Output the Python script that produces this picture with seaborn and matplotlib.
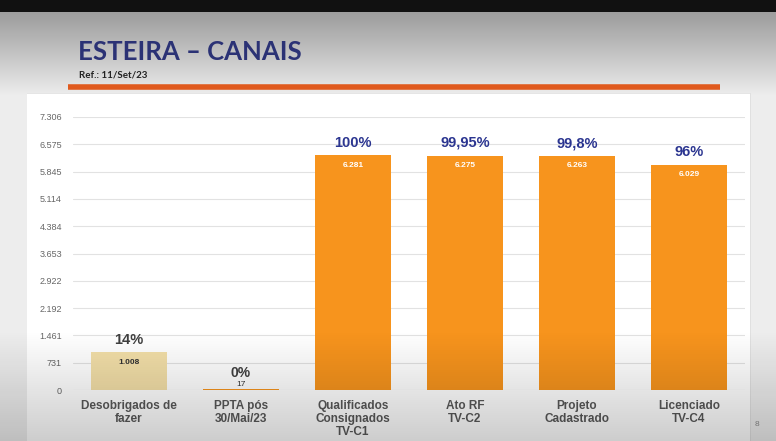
import numpy as np
import pandas as pd
import matplotlib
matplotlib.use("Agg")
import matplotlib.pyplot as plt
import seaborn as sns

# data
categorias = ["Desobrigados de\nfazer", "PPTA pós\n30/Mai/23", "Qualificados\nConsignados\nTV-C1",
              "Ato RF\nTV-C2", "Projeto\nCadastrado", "Licenciado\nTV-C4"]
valores = [1008, 17, 6281, 6275, 6263, 6029]
percentuais = ["14%", "0%", "100%", "99,95%", "99,8%", "96%"]
yticks = [0, 731, 1461, 2192, 2922, 3653, 4384, 5114, 5845, 6575, 7306]

cores = ["#f3dfa8", "#f7941d", "#f7941d", "#f7941d", "#f7941d", "#f7941d"]

sns.set_theme(style="white")
plt.rcParams["font.family"] = ["Liberation Sans", "DejaVu Sans"]

W, H = 776, 441
fig = plt.figure(figsize=(W / 100, H / 100), dpi=100)

# slide background (screenshot look)
bg = fig.add_axes([0, 0, 1, 1])
rows = np.arange(H)
base = np.interp(rows, [0, 11, 12, 20, 95, 96, 441], [0.07, 0.07, 0.62, 0.64, 0.93, 0.93, 0.93])
img = np.repeat(base[:, None], W, axis=1)
cols = np.arange(W)
panel = (cols[None, :] >= 27) & (cols[None, :] <= 750) & (rows[:, None] >= 93)
img = np.where(panel, 1.0, img)
img[93, 27:751] = 0.9
img[93:, 750] = 0.88
bg.imshow(np.dstack([img, img, img]), aspect="auto", extent=[0, W, H, 0])
bg.set_xlim(0, W)
bg.set_ylim(H, 0)
bg.axis("off")

# title, ref and orange rule
bg.text(78, 52, "ESTEIRA – CANAIS", fontsize=18.5, fontweight="bold", color="#2b3275",
        va="center", ha="left", family=["Lato", "DejaVu Sans"])
bg.text(79, 75, "Ref.: 11/Set/23", fontsize=7, fontweight="bold", color="#222222",
        va="center", ha="left", family=["Lato", "DejaVu Sans"])
bg.plot([68, 720], [87, 87], color="#e05a1e", lw=4, solid_capstyle="butt")
bg.text(757, 425, "8", fontsize=6, color="#888888", va="center", ha="center")

ax = fig.add_axes([73 / W, 51 / H, 672 / W, 273 / H])
ax.patch.set_alpha(0)
df = pd.DataFrame({"categoria": categorias, "valor": valores})
sns.barplot(data=df, x="categoria", y="valor", hue="categoria", palette=cores,
            legend=False, width=0.68, saturation=1, linewidth=0, ax=ax, zorder=3)
ax.set_ylim(0, yticks[-1])
ax.set_yticks(yticks)
ax.set_yticklabels([f"{v:,}".replace(",", ".") for v in yticks], fontsize=6.5, color="#666666")
ax.tick_params(axis="y", length=0, pad=8)
ax.tick_params(axis="x", length=0, pad=7)
for lbl in ax.get_xticklabels():
    lbl.set_fontsize(8.5)
    lbl.set_fontweight("bold")
    lbl.set_color("#595959")
    lbl.set_linespacing(1.1)
ax.set_xlabel("")
ax.set_ylabel("")
ax.grid(axis="y", color="#e2e2e2", lw=0.8, zorder=0)
for s in ax.spines.values():
    s.set_visible(False)

for i, (v, p) in enumerate(zip(valores, percentuais)):
    txt = f"{v:,}".replace(",", ".")
    if v < 300:
        ax.annotate(txt, (i, v), xytext=(0, 1), textcoords="offset points",
                    ha="center", va="bottom", fontsize=6, color="#333333")
        ax.annotate(p, (i, v), xytext=(0, 7), textcoords="offset points",
                    ha="center", va="bottom", fontsize=10, fontweight="bold", color="#404040")
        continue
    cor_v = "#333333" if i == 0 else "white"
    ax.annotate(txt, (i, v), xytext=(0, -7), textcoords="offset points",
                ha="center", va="center", fontsize=6, fontweight="bold", color=cor_v)
    cor_p = "#404040" if i == 0 else "#2b3590"
    ax.annotate(p, (i, v), xytext=(0, 4), textcoords="offset points",
                ha="center", va="bottom", fontsize=10.5, fontweight="bold", color=cor_p)

# darkening at the bottom of the screenshot (video overlay)
ov = fig.add_axes([0, 0, 1, 1], zorder=10)
alpha = np.interp(rows, [0, 330, 441], [0.0, 0.0, 0.2])
over = np.zeros((H, 1, 4))
over[:, 0, 3] = alpha
ov.imshow(over, aspect="auto", extent=[0, W, H, 0])
ov.set_xlim(0, W)
ov.set_ylim(H, 0)
ov.axis("off")

fig.savefig("out.png", dpi=100)
